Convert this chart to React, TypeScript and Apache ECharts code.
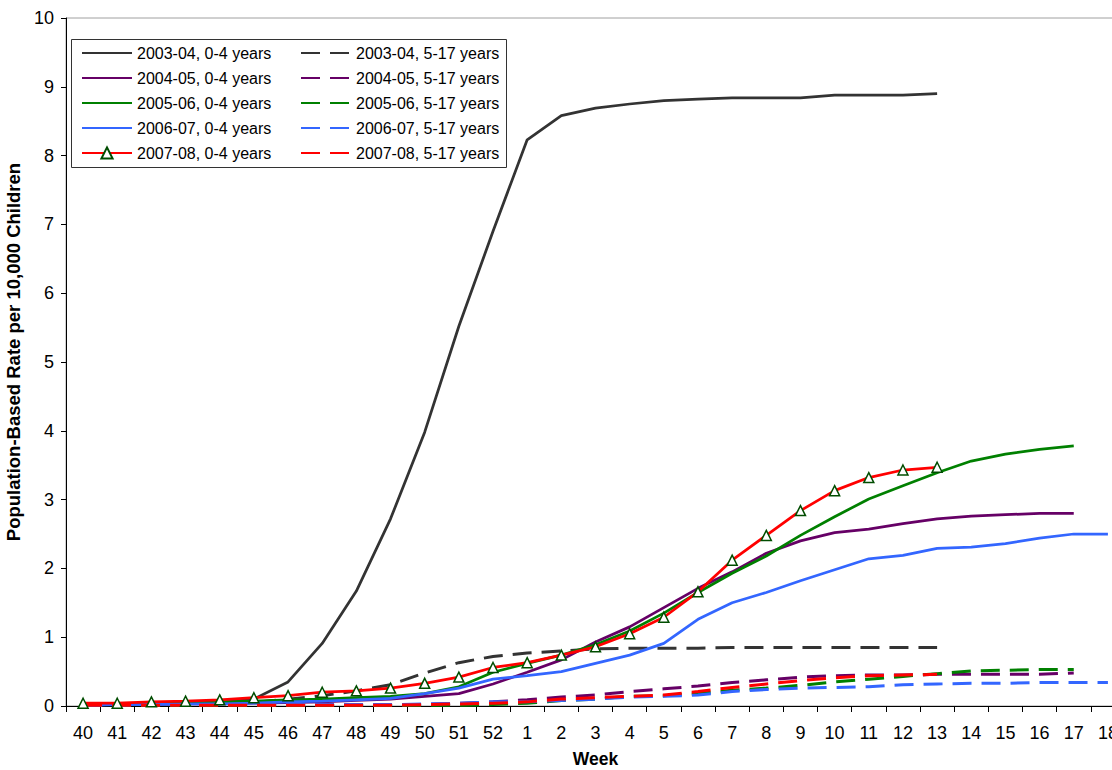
import React, { useEffect, useRef } from "react";
import * as echarts from "echarts";

const weeks = [
  "40", "41", "42", "43", "44", "45", "46", "47", "48", "49", "50", "51", "52",
  "1", "2", "3", "4", "5", "6", "7", "8", "9", "10", "11", "12", "13", "14", "15", "16", "17", "18",
];

const y0304_04 = [0.02, 0.02, 0.03, 0.03, 0.05, 0.1, 0.35, 0.91, 1.67, 2.72, 3.98, 5.52, 6.9, 8.23, 8.58, 8.69, 8.75, 8.8, 8.82, 8.84, 8.84, 8.84, 8.88, 8.88, 8.88, 8.9, null, null, null, null, null];
const y0304_517 = [0.01, 0.01, 0.02, 0.02, 0.03, 0.05, 0.1, 0.15, 0.22, 0.31, 0.48, 0.63, 0.72, 0.77, 0.8, 0.83, 0.84, 0.84, 0.84, 0.85, 0.85, 0.85, 0.85, 0.85, 0.85, 0.85, null, null, null, null, null];
const y0405_04 = [0.02, 0.02, 0.02, 0.03, 0.03, 0.04, 0.05, 0.06, 0.08, 0.1, 0.14, 0.18, 0.32, 0.49, 0.67, 0.93, 1.15, 1.43, 1.71, 1.95, 2.22, 2.4, 2.52, 2.57, 2.65, 2.72, 2.76, 2.78, 2.8, 2.8, null];
const y0405_517 = [0.01, 0.01, 0.01, 0.01, 0.01, 0.01, 0.01, 0.01, 0.01, 0.01, 0.02, 0.04, 0.06, 0.09, 0.13, 0.16, 0.21, 0.25, 0.29, 0.34, 0.38, 0.42, 0.44, 0.45, 0.45, 0.46, 0.46, 0.46, 0.46, 0.48, null];
const y0506_04 = [0.02, 0.03, 0.04, 0.05, 0.06, 0.07, 0.09, 0.1, 0.12, 0.14, 0.18, 0.28, 0.49, 0.62, 0.74, 0.89, 1.09, 1.35, 1.65, 1.93, 2.18, 2.48, 2.75, 3.01, 3.2, 3.39, 3.56, 3.66, 3.73, 3.78, null];
const y0506_517 = [0.01, 0.01, 0.01, 0.01, 0.01, 0.01, 0.01, 0.01, 0.01, 0.01, 0.01, 0.01, 0.02, 0.04, 0.08, 0.1, 0.14, 0.15, 0.18, 0.23, 0.26, 0.3, 0.35, 0.39, 0.43, 0.47, 0.51, 0.52, 0.53, 0.53, null];
const y0607_04 = [0.01, 0.02, 0.02, 0.03, 0.03, 0.04, 0.06, 0.07, 0.09, 0.11, 0.18, 0.26, 0.39, 0.44, 0.5, 0.62, 0.74, 0.91, 1.26, 1.5, 1.65, 1.82, 1.98, 2.14, 2.19, 2.29, 2.31, 2.36, 2.44, 2.5, 2.5];
const y0607_517 = [0.01, 0.01, 0.02, 0.02, 0.02, 0.02, 0.02, 0.02, 0.02, 0.02, 0.03, 0.04, 0.06, 0.06, 0.08, 0.1, 0.13, 0.14, 0.16, 0.21, 0.24, 0.26, 0.27, 0.28, 0.31, 0.32, 0.33, 0.33, 0.34, 0.34, 0.34];
const y0708_04 = [0.04, 0.04, 0.06, 0.07, 0.09, 0.12, 0.15, 0.2, 0.22, 0.26, 0.33, 0.42, 0.56, 0.63, 0.74, 0.86, 1.05, 1.29, 1.66, 2.12, 2.48, 2.84, 3.13, 3.32, 3.43, 3.47, null, null, null, null, null];
const y0708_517 = [0.01, 0.01, 0.01, 0.01, 0.01, 0.01, 0.01, 0.01, 0.01, 0.01, 0.02, 0.03, 0.04, 0.06, 0.1, 0.12, 0.14, 0.16, 0.21, 0.27, 0.32, 0.37, 0.41, 0.44, 0.45, 0.46, null, null, null, null, null];

const yTicks = [0, 1, 2, 3, 4, 5, 6, 7, 8, 9, 10];

const seasons = ["2003-04", "2004-05", "2005-06", "2006-07", "2007-08"];
const colors = ["#333333", "#660066", "#008000", "#3366FF", "#FF0000"];
const young = [y0304_04, y0405_04, y0506_04, y0607_04, y0708_04];
const older = [y0304_517, y0405_517, y0506_517, y0607_517, y0708_517];

const FONT = "'Liberation Sans', Arial, sans-serif";
const DASH = [19, 10];

export default function App() {
  const ref = useRef<HTMLDivElement>(null);
  useEffect(() => {
    if (!ref.current) return;
    const chart = echarts.init(ref.current, null, { renderer: "svg" });
    const series: any[] = [];
    const legend04: any[] = [];
    const legend517: any[] = [];
    seasons.forEach((s, i) => {
      const n1 = `${s}, 0-4 years`;
      const n2 = `${s}, 5-17 years`;
      const isLast = i === 4;
      legend04.push(isLast ? { name: n1 } : { name: n1, itemStyle: { opacity: 0 } });
      legend517.push({ name: n2, itemStyle: { opacity: 0 }, lineStyle: { type: DASH } });
      series.push({
        name: n1,
        type: "line",
        data: young[i],
        color: colors[i],
        symbol: isLast ? "triangle" : "none",
        symbolSize: 10,
        showSymbol: isLast,
        itemStyle: isLast
          ? { color: "#ffffff", borderColor: "#004d00", borderWidth: 1.5 }
          : { color: colors[i] },
        lineStyle: { color: colors[i], width: 2.75 },
        z: 2,
      });
      series.push({
        name: n2,
        type: "line",
        data: older[i],
        color: colors[i],
        symbol: "none",
        showSymbol: false,
        itemStyle: { color: colors[i] },
        lineStyle: { color: colors[i], width: 3, type: DASH },
        z: 2,
      });
    });
    const legendCommon = {
      orient: "vertical",
      top: 45,
      padding: 0,
      itemWidth: 50,
      itemHeight: 14,
      itemGap: 9,
      selectedMode: false,
      textStyle: { fontFamily: FONT, fontSize: 16, color: "#000", lineHeight: 16 },
      z: 5,
    };
    chart.setOption({
      animation: false,
      backgroundColor: "#ffffff",
      textStyle: { fontFamily: FONT },
      grid: {
        left: 66,
        top: 18,
        width: 1059,
        bottom: 64,
        outerBoundsMode: "none",
        containLabel: false,
        show: true,
        borderColor: "#a0a0a0",
        borderWidth: 1,
        backgroundColor: "transparent",
      },
      legend: [
        { ...legendCommon, left: 81, data: legend04 },
        { ...legendCommon, left: 300, data: legend517 },
      ],
      graphic: [
        {
          type: "rect",
          z: 3,
          shape: { x: 71.5, y: 39.5, width: 435, height: 128 },
          style: { fill: "#ffffff", stroke: "#333333", lineWidth: 1 },
        },
      ],
      xAxis: {
        type: "category",
        data: weeks,
        boundaryGap: true,
        name: "Week",
        nameLocation: "middle",
        nameGap: 44,
        nameTextStyle: { fontFamily: FONT, fontSize: 17.5, fontWeight: "bold", color: "#000" },
        axisLine: { lineStyle: { color: "#000", width: 1 } },
        axisTick: { show: true, interval: 0, length: 6, lineStyle: { color: "#000" } },
        axisLabel: { interval: 0, fontFamily: FONT, fontSize: 18, color: "#000", margin: 18 },
        splitLine: { show: false },
      },
      yAxis: {
        type: "value",
        min: yTicks[0],
        max: yTicks[yTicks.length - 1],
        interval: 1,
        name: "Population-Based Rate per 10,000 Children",
        nameLocation: "middle",
        nameGap: 39,
        nameTextStyle: {
          fontFamily: FONT,
          fontSize: 18.5,
          fontWeight: "bold",
          color: "#000",
          padding: [0, 0, 0, 20],
        },
        axisLine: { show: true, lineStyle: { color: "#000", width: 1 } },
        axisTick: { show: true, length: 5, lineStyle: { color: "#000" } },
        axisLabel: { fontFamily: FONT, fontSize: 18, color: "#000", margin: 12 },
        splitLine: { show: false },
      },
      series,
    });
    return () => chart.dispose();
  }, []);
  return (
    <div style={{ position: "fixed", left: 0, top: 0, width: 1112, height: 770, overflow: "hidden", background: "#fff" }}>
      <div ref={ref} style={{ width: 1140, height: 770 }} />
    </div>
  );
}
